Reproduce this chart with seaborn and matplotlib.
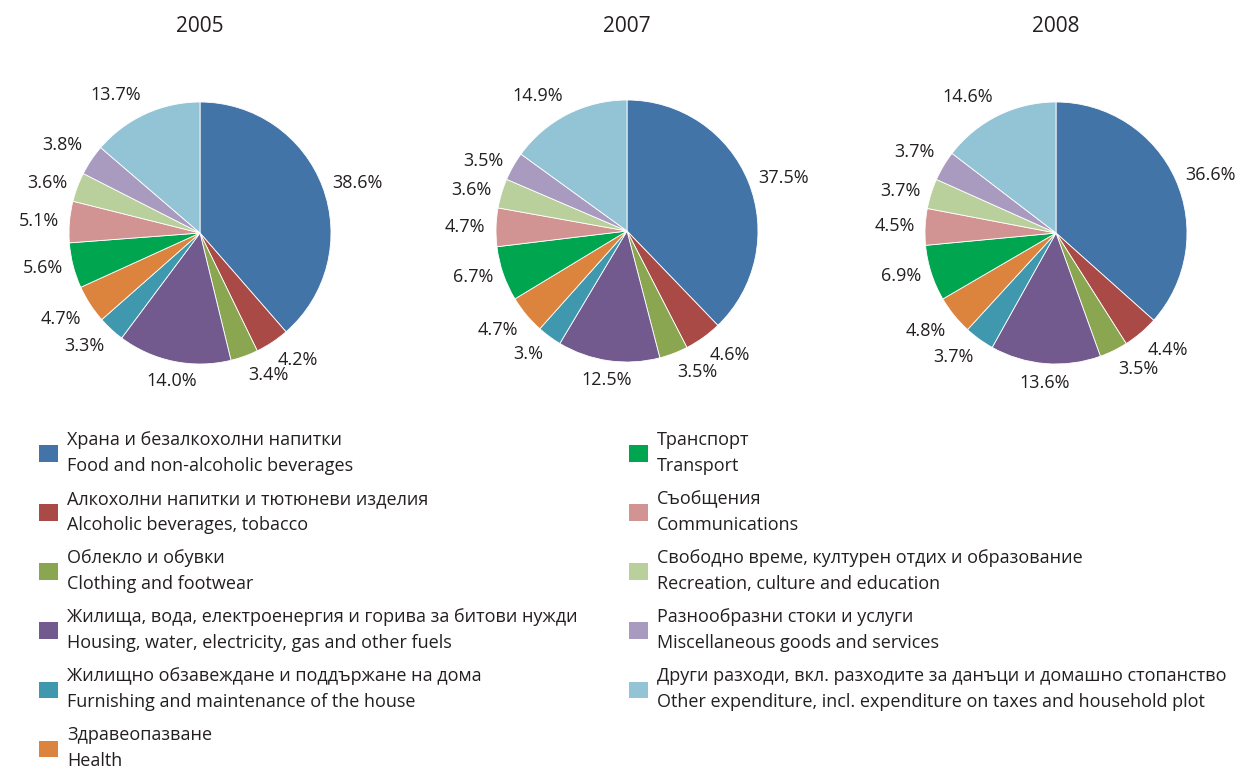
import matplotlib
matplotlib.use("Agg")
import matplotlib.pyplot as plt
from matplotlib.patches import Patch
import numpy as np
import seaborn as sns

sns.set_theme(style="white")
plt.rcParams["font.family"] = ["Open Sans", "DejaVu Sans"]
plt.rcParams["text.color"] = "#231F20"

# Household expenditure structure, % (slices clockwise from 12 o'clock)
categories_bg = [
    "Храна и безалкохолни напитки",
    "Алкохолни напитки и тютюневи изделия",
    "Облекло и обувки",
    "Жилища, вода, електроенергия и горива за битови нужди",
    "Жилищно обзавеждане и поддържане на дома",
    "Здравеопазване",
    "Транспорт",
    "Съобщения",
    "Свободно време, културен отдих и образование",
    "Разнообразни стоки и услуги",
    "Други разходи, вкл. разходите за данъци и домашно стопанство",
]
categories_en = [
    "Food and non-alcoholic beverages",
    "Alcoholic beverages, tobacco",
    "Clothing and footwear",
    "Housing, water, electricity, gas and other fuels",
    "Furnishing and maintenance of the house",
    "Health",
    "Transport",
    "Communications",
    "Recreation, culture and education",
    "Miscellaneous goods and services",
    "Other expenditure, incl. expenditure on taxes and household plot",
]
years = ["2005", "2007", "2008"]
values_2005 = [38.6, 4.2, 3.4, 14.0, 3.3, 4.7, 5.6, 5.1, 3.6, 3.8, 13.7]
values_2007 = [37.5, 4.6, 3.5, 12.5, 3.0, 4.7, 6.7, 4.7, 3.6, 3.5, 14.9]
values_2008 = [36.6, 4.4, 3.5, 13.6, 3.7, 4.8, 6.9, 4.5, 3.7, 3.7, 14.6]
label_overrides = {("2007", 4): "3.%"}

colors = [
    "#4374A8", "#A94A47", "#8AA650", "#725A8F", "#3F98AE", "#DC833D",
    "#00A550", "#D19492", "#BAD09C", "#A99BBF", "#93C4D5",
]

W, H = 1246, 771
fig = plt.figure(figsize=(W / 100, H / 100), dpi=100)
fig.patch.set_facecolor("white")

# pie centres and radius in pixels
centres = [(200, 233), (627, 231), (1056, 233)]
radius_px = 131
title_y_px = 27

for year, vals, (cx, cy) in zip(years, [values_2005, values_2007, values_2008], centres):
    ax = fig.add_axes([(cx - radius_px) / W, (H - cy - radius_px) / H,
                       2 * radius_px / W, 2 * radius_px / H])
    texts = [label_overrides.get((year, i), f"{v:.1f}%") for i, v in enumerate(vals)]
    wedges, lbls = ax.pie(vals, colors=colors, startangle=90, counterclock=False,
                          labels=texts, labeldistance=1.08,
                          wedgeprops=dict(edgecolor="white", linewidth=0.6),
                          textprops=dict(fontsize=13, color="#231F20"))
    for w, t in zip(wedges, lbls):
        ang = np.deg2rad((w.theta1 + w.theta2) / 2)
        c, s = np.cos(ang), np.sin(ang)
        t.set_ha("left" if c > 0.2 else ("right" if c < -0.2 else "center"))
        t.set_va("bottom" if s > 0.5 else ("top" if s < -0.5 else "center"))
    ax.set_xlim(-1, 1)
    ax.set_ylim(-1, 1)
    ax.set_aspect("equal")
    ax.axis("off")
    fig.text(cx / W, 1 - title_y_px / H, year, ha="center", va="center",
             fontsize=15, color="#231F20")

handles = [Patch(facecolor=c, edgecolor="none") for c in colors]
labels = [f"{bg}\n{en}" for bg, en in zip(categories_bg, categories_en)]

# two legend columns: first six categories on the left, the rest on the right
legend_kw = dict(loc="upper left", frameon=False, fontsize=13,
                 handlelength=1.05, handleheight=1.05, handletextpad=0.5,
                 labelspacing=0.85, borderaxespad=0, borderpad=0)
for sl, x_px in [(slice(0, 6), 39), (slice(6, 11), 629)]:
    leg = fig.legend(handles[sl], labels[sl],
                     bbox_to_anchor=(x_px / W, 1 - 431 / H), **legend_kw)
    for t in leg.get_texts():
        t.set_linespacing(1.55)

fig.savefig("out.png", dpi=100, facecolor="white")
